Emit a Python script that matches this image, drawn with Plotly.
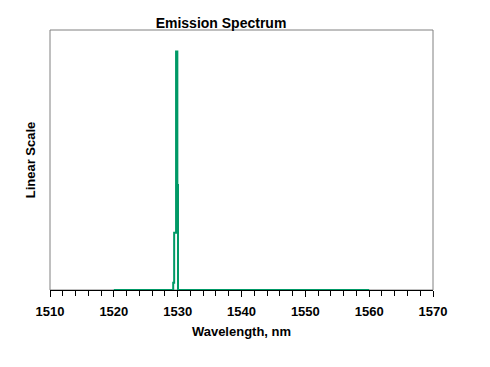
import plotly.graph_objects as go

wavelength = [1520.0, 1529.2, 1529.3, 1529.45, 1529.75, 1529.95, 1530.05, 1560.0]
intensity = [0.0, 0.0, 0.03, 0.24, 1.0, 0.44, 0.0, 0.0]
tick_vals = [1510, 1520, 1530, 1540, 1550, 1560, 1570]

fig = go.Figure()
fig.add_trace(go.Scatter(x=wavelength, y=intensity, mode="lines", line_shape="hv",
                         line=dict(color="#009966", width=2), showlegend=False))

font = dict(family="Arial, Liberation Sans, sans-serif", color="black")
W, H = 490, 367
L, R, T, B = 42, 65, 22, 85
fig.update_layout(
    width=W, height=H,
    margin=dict(l=L, r=R, t=T, b=B, autoexpand=False),
    paper_bgcolor="white", plot_bgcolor="white",
    title=dict(text="<b>Emission Spectrum</b>", x=(221-8)/W, xanchor="center",
               y=1-(23-8)/H, yanchor="middle", font=dict(size=14, **font)),
    xaxis=dict(range=[1510, 1570], tickvals=tick_vals,
               ticktext=["<b>%d</b>" % v for v in tick_vals],
               ticks="outside", ticklen=6, tickcolor="black", tickwidth=1,
               minor=dict(dtick=2, ticks="outside", ticklen=5, tickcolor="black"),
               showline=True, linecolor="black", linewidth=1, mirror=False,
               showgrid=False, zeroline=False, automargin=False, layer="below traces",
               ticklabelstandoff=3,
               tickfont=dict(size=13, **font),
               title=dict(text="<b>Wavelength, nm</b>", font=dict(size=13, **font), standoff=9)),
    yaxis=dict(range=[0, 1.09], showticklabels=False, ticks="", showgrid=False, zeroline=False,
               showline=False, automargin=False,
               title=dict(text="<b>Linear Scale</b>", font=dict(size=13, **font), standoff=10)),
    shapes=[dict(type="rect", xref="paper", yref="paper", x0=0, x1=1, y0=0, y1=1,
                 line=dict(color="#808080", width=1), layer="below")],
)
fig.write_html("out.html")
